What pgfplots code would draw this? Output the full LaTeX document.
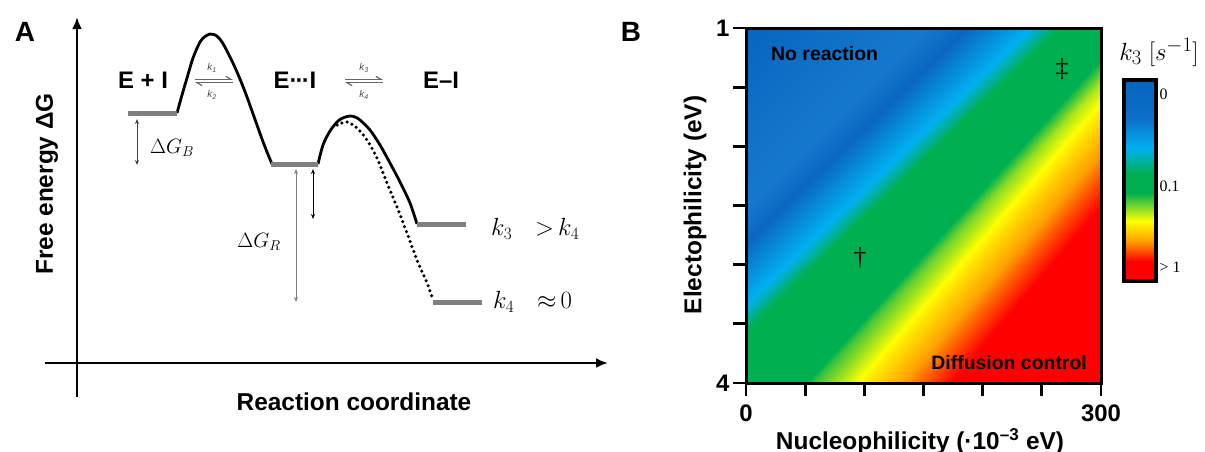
\documentclass[border=0pt]{standalone}
\usepackage[no-math]{fontspec}
\setmainfont{Liberation Sans}
\newfontfamily\serif{Liberation Serif}
\usepackage{pgfplots}
\pgfplotsset{compat=1.18}
\usetikzlibrary{arrows.meta}

\definecolor{lvl}{RGB}{128,128,128}
\newcommand{\fs}[1]{\fontsize{#1}{#1}\selectfont}

\begin{document}
\begin{tikzpicture}
\useasboundingbox (0,0) rectangle (1205bp,-452bp);

% ---- B: k3 map ----
\begin{axis}[
  at={(923.5bp,-205.5bp)}, anchor=center,
  scale only axis, width=355bp, height=355bp,
  xmin=0, xmax=300, ymin=1, ymax=4, y dir=reverse,
  axis on top,
  axis line style={line width=3bp},
  tick align=outside, tick pos=left,
  major tick length=13bp,
  tick style={line width=2.8bp, black},
  xtick={0,50,...,300}, xticklabels={0,,,,,,300},
  ytick={1,1.5,...,4}, yticklabels={1,,,,,,4},
  ticklabel style={font=\bfseries\fs{24}},
  xticklabel style={yshift=-5bp},
  colormap={heat}{rgb255=(5,100,190) rgb255=(22,120,204) rgb255=(10,102,193)
    rgb255=(0,176,240) rgb255=(0,176,80) rgb255=(0,176,80) rgb255=(255,255,0)
    rgb255=(255,160,0) rgb255=(255,0,0) rgb255=(255,0,0)},
  point meta min=0, point meta max=9,
]
% iso-lines of k3, two points each
\addplot[surf, shader=interp, mesh/cols=2, point meta=explicit] table[meta=m] {
x y m
75 0.1 0
-405 4.9 0
240 0.1 1
-240 4.9 1
278.7 0.1 2
-215.7 4.9 2
332.7 0.1 3
-161.7 4.9 3
357 0.1 4
-139.65 4.9 4
405.9 0.1 5
-30.9 4.9 5
432.3 0.1 6
14.7 4.9 6
467.4 0.1 7
54.6 4.9 7
504 0.1 8
96 4.9 8
720 0.1 9
420 4.9 9
};
\end{axis}

% ---- colour bar ----
\begin{axis}[
  at={(1140bp,-180.5bp)}, anchor=center,
  scale only axis, width=32bp, height=201bp,
  xmin=0, xmax=1, ymin=0, ymax=1, y dir=reverse,
  axis on top,
  axis line style={line width=3.5bp},
  xtick=\empty, ytick={0.07,0.53,0.93}, yticklabels={0,0.1,> 1},
  ytick pos=right, major tick length=0pt,
  yticklabel style={font=\serif\fs{16}, anchor=west},
  colormap={bar}{rgb255=(5,100,190) rgb255=(12,110,200) rgb255=(0,176,240)
    rgb255=(0,176,80) rgb255=(0,176,80) rgb255=(255,255,0) rgb255=(255,160,0)
    rgb255=(255,0,0) rgb255=(255,0,0)},
  point meta min=0, point meta max=8,
]
\addplot[surf, shader=interp, mesh/cols=2, point meta=explicit] table[meta=m] {
x y m
0 0 0
1 0 0
0 0.19 1
1 0.19 1
0 0.34 2
1 0.34 2
0 0.47 3
1 0.47 3
0 0.56 4
1 0.56 4
0 0.70 5
1 0.70 5
0 0.80 6
1 0.80 6
0 0.90 7
1 0.90 7
0 1 8
1 1 8
};
\end{axis}

% ---- A: energy profile, and all free text (pixel units) ----
\begin{axis}[
  at={(602.5bp,-226bp)}, anchor=center,
  scale only axis, width=1205bp, height=452bp,
  xmin=0, xmax=1205, ymin=0, ymax=452, y dir=reverse,
  hide axis, clip=false,
]
% axes
\addplot[black, line width=2.8bp, -{Latex[length=12bp,width=10bp]}] coordinates {(77,397) (77,17)};
\addplot[black, line width=2.8bp, -{Latex[length=12bp,width=10bp]}] coordinates {(45,363) (608,363)};

% barriers
\addplot[black, line width=2.8bp, smooth] coordinates {
(177,113) (182,95) (187,78) (193,58) (200,42) (205,36.5) (210,34) (214,34.5)
(218,37) (222,42) (227,51) (232,61) (237,72) (242,84) (247,97) (252,111)
(257,125) (262,139) (267,152) (272,164)};
\addplot[black, line width=2.8bp, smooth] coordinates {
(318,164) (323,145) (330,131) (338,121) (344,117.5) (350,116) (355,117)
(360,120) (370,130) (380,145) (390,163) (400,182) (410,203) (417,224)};
\addplot[black, line width=3.5bp, line cap=round, dash pattern=on 0pt off 5.3bp, smooth] coordinates {
(337,125) (347,122) (357,128) (367,140) (377,158) (387,183) (397,207)
(407,233) (417,260) (427,283) (433,300)};

% levels
\addplot[lvl, line width=5bp] coordinates {(128,113) (177,113)};
\addplot[lvl, line width=5bp] coordinates {(271,164) (318,164)};
\addplot[lvl, line width=5bp] coordinates {(417,224) (466,224)};
\addplot[lvl, line width=5bp] coordinates {(433,302) (482,302)};

% energy differences
\addplot[black!75, line width=0.8bp, {Stealth[length=5bp,width=4bp]}-{Stealth[length=5bp,width=4bp]}] coordinates {(137,119) (137,165)};
\addplot[black!50, line width=0.8bp, {Stealth[length=5bp,width=4bp]}-{Stealth[length=5bp,width=4bp]}] coordinates {(296,169) (296,302)};
\addplot[black, line width=0.8bp, {Stealth[length=5bp,width=4bp]}-{Stealth[length=5bp,width=4bp]}] coordinates {(313,169) (313,219)};

% equilibrium arrows
\addplot[black!60, line width=1.2bp, -{Straight Barb[harpoon,length=5bp,width=6bp]}] coordinates {(195,79.3) (233,79.3)};
\addplot[black!60, line width=1.2bp, -{Straight Barb[harpoon,length=5bp,width=6bp]}] coordinates {(233,82.7) (195,82.7)};
\addplot[black!60, line width=1.2bp, -{Straight Barb[harpoon,length=5bp,width=6bp]}] coordinates {(345,79.3) (383,79.3)};
\addplot[black!60, line width=1.2bp, -{Straight Barb[harpoon,length=5bp,width=6bp]}] coordinates {(383,82.7) (345,82.7)};

% panel A text
\node[font=\bfseries\fs{28}] at (axis cs:25,32) {A};
\node[font=\bfseries\fs{24}] at (axis cs:143,80) {E + I};
\node[font=\bfseries\fs{24}] at (axis cs:295,80) {E·\kern-0.08em·\kern-0.08em·I};
\node[font=\bfseries\fs{24}] at (axis cs:441,80) {E–I};
\node[font=\itshape\fs{10}, text=black!70] at (axis cs:212,68) {k\textsubscript{1}};
\node[font=\itshape\fs{10}, text=black!70] at (axis cs:212,95) {k\textsubscript{2}};
\node[font=\itshape\fs{10}, text=black!70] at (axis cs:364,68) {k\textsubscript{3}};
\node[font=\itshape\fs{10}, text=black!70] at (axis cs:364,95) {k\textsubscript{4}};
\node[font=\fs{20}] at (axis cs:172,148) {$\Delta G_B$};
\node[font=\fs{20}] at (axis cs:259,242) {$\Delta G_R$};
\node[font=\fs{23}, anchor=west, inner sep=0pt] at (axis cs:491,229) {$k_3\quad{>}\,k_4$};
\node[font=\fs{23}, anchor=west, inner sep=0pt] at (axis cs:493,302) {$k_4\quad{\approx}\,0$};
\node[font=\bfseries\fs{24.5}, rotate=90] at (axis cs:47,184) {Free energy ΔG};
\node[font=\bfseries\fs{24.5}, anchor=base] at (axis cs:354,410) {Reaction coordinate};

% panel B text
\node[font=\bfseries\fs{28}] at (axis cs:631,32) {B};
\node[font=\bfseries\fs{19.5}, anchor=west, inner sep=0pt] at (axis cs:771,54) {No reaction};
\node[font=\bfseries\fs{19.5}, anchor=east, inner sep=0pt] at (axis cs:1087,363) {Diffusion control};
\node[font=\serif\fs{26}] at (axis cs:860,258) {†};
\node[font=\serif\fs{26}] at (axis cs:1062,69) {‡};
\node[font=\fs{24.88}] at (axis cs:1159,52) {$k_3\ [s^{-1}]$};
\node[font=\bfseries\fs{24.5}, rotate=90] at (axis cs:695,205) {Electophilicity (eV)};
\node[font=\bfseries\fs{24.5}, anchor=base] at (axis cs:920,449) {Nucleophilicity (·10\textsuperscript{–3} eV)};
\end{axis}
\end{tikzpicture}
\end{document}
